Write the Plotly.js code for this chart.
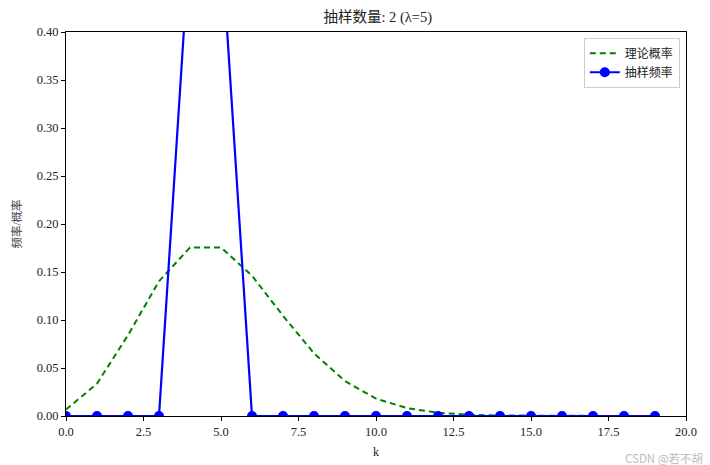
<!DOCTYPE html>
<html><head><meta charset="utf-8">
<script src="https://cdn.plot.ly/plotly-3.0.1.min.js"></script>
<style>body{margin:0;background:#fff}#c{width:710px;height:465px}</style>
</head><body><div id="c"></div>
<script>
const k = [0,1,2,3,4,5,6,7,8,9,10,11,12,13,14,15,16,17,18,19];
const theory = [0.0067,0.0337,0.0842,0.1404,0.1755,0.1755,0.1462,0.1044,0.0653,0.0363,0.0181,0.0082,0.0034,0.0013,0.0005,0.0002,0.0000,0.0000,0.0000,0.0000];
const sampled = [0,0,0,0,0.5,0.5,0,0,0,0,0,0,0,0,0,0,0,0,0,0];
const xTicks = [0,2.5,5,7.5,10,12.5,15,17.5,20];
const xTickText = ['0.0','2.5','5.0','7.5','10.0','12.5','15.0','17.5','20.0'];
const yTicks = [0,0.05,0.1,0.15,0.2,0.25,0.3,0.35,0.4];
const yTickText = ['0.00','0.05','0.10','0.15','0.20','0.25','0.30','0.35','0.40'];

const F = 'Liberation Serif, Noto Sans CJK SC, serif';
const traces = [
  {x:k, y:theory, mode:'lines', name:'理论概率', line:{color:'green', width:2, dash:'6px,4px'}},
  {x:k, y:sampled, mode:'lines+markers', name:'抽样频率', line:{color:'blue', width:2.2}, marker:{color:'blue', size:10}}
];
const axisCommon = {showline:true, linecolor:'black', linewidth:1, mirror:true, ticks:'outside', ticklen:4, tickcolor:'black', showgrid:false, zeroline:false, tickfont:{family:F, size:12.5, color:'#222'}};
const layout = {
  width:710, height:465,
  margin:{l:66, r:24, t:32, b:49},
  paper_bgcolor:'white', plot_bgcolor:'white',
  font:{family:F, color:'#222'},
  title:{text:'抽样数量: 2 (λ=5)', font:{family:F, size:14.5, color:'#222'}, x:0.532, xanchor:'center', y:0.963, yanchor:'middle'},
  xaxis:Object.assign({}, axisCommon, {range:[0,20], tickvals:xTicks, ticktext:xTickText, title:{text:'k', font:{family:F, size:12}, standoff:9}}),
  yaxis:Object.assign({}, axisCommon, {range:[0,0.4], tickvals:yTicks, ticktext:yTickText, title:{text:'频率/概率', font:{family:F, size:11.5, color:'#444'}, standoff:12}}),
  showlegend:true,
  legend:{x:0.99, y:0.985, xanchor:'right', yanchor:'top', bgcolor:'rgba(255,255,255,0.8)', bordercolor:'#ccc', borderwidth:1, font:{family:F, size:12}, tracegroupgap:2},
  annotations:[{text:'CSDN @若不胡', xref:'paper', yref:'paper', x:1.03, y:-0.135, xanchor:'right', yanchor:'bottom', showarrow:false, font:{family:'Noto Sans CJK SC', size:11.5, color:'#bbb'}}]
};
Plotly.newPlot('c', traces, layout, {displayModeBar:false, staticPlot:true});
</script></body></html>
